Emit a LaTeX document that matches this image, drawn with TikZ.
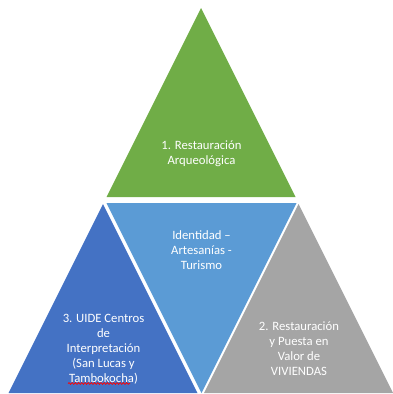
\documentclass[tikz,border=0pt]{standalone}
\usepackage{fontspec}
\setmainfont{Carlito}
\usetikzlibrary{decorations.pathmorphing}
\definecolor{cgreen}{HTML}{70AD47}
\definecolor{cblue}{HTML}{4472C4}
\definecolor{clblue}{HTML}{5B9BD5}
\definecolor{cgray}{HTML}{A5A5A5}
\begin{document}
\begin{tikzpicture}[x=1pt,y=-1pt,
  lbl/.style={text=white,align=center,font=\fontsize{12.7}{15}\selectfont,inner sep=0pt},
  squiggle/.style={draw=red,line width=0.7pt,decorate,decoration={snake,amplitude=0.9pt,segment length=3.2pt}}]
\useasboundingbox (0,0) rectangle (393,394);
% triangles
\coordinate (gA) at (201,8);
\coordinate (gL) at (106.5,197);
\coordinate (gR) at (295.5,197);
\fill[cgreen] (gA) -- (gR) -- (gL) -- cycle;
\coordinate (iL) at (106.5,203);
\coordinate (iR) at (296.5,203);
\coordinate (iB) at (201.5,393);
\fill[clblue] (iL) -- (iR) -- (iB) -- cycle;
\coordinate (bA) at (103,204);
\coordinate (bL) at (8.5,393);
\coordinate (bR) at (197.5,393);
\fill[cblue] (bA) -- (bR) -- (bL) -- cycle;
\coordinate (rA) at (298.5,204);
\coordinate (rL) at (204,393);
\coordinate (rR) at (393,393);
\fill[cgray] (rA) -- (rR) -- (rL) -- cycle;
% labels
\node[lbl] (t1) at (201.5,154) {1. Restauración\\Arqueológica};
\node[lbl] (t0) at (201.5,250.5) {Identidad –\\Artesanías -\\Turismo};
\node[lbl] (t3) at (103.5,349.5) {3. UIDE Centros\\de\\Interpretación\\(San Lucas y\\Tambokocha)};
\node[lbl] (t2) at (299,349) {2. Restauración\\y Puesta en\\Valor de\\VIVIENDAS};
\coordinate (sqL) at (68,383.5);
\coordinate (sqR) at (130,383.5);
\draw[squiggle] (sqL) -- (sqR);
\end{tikzpicture}
\end{document}
